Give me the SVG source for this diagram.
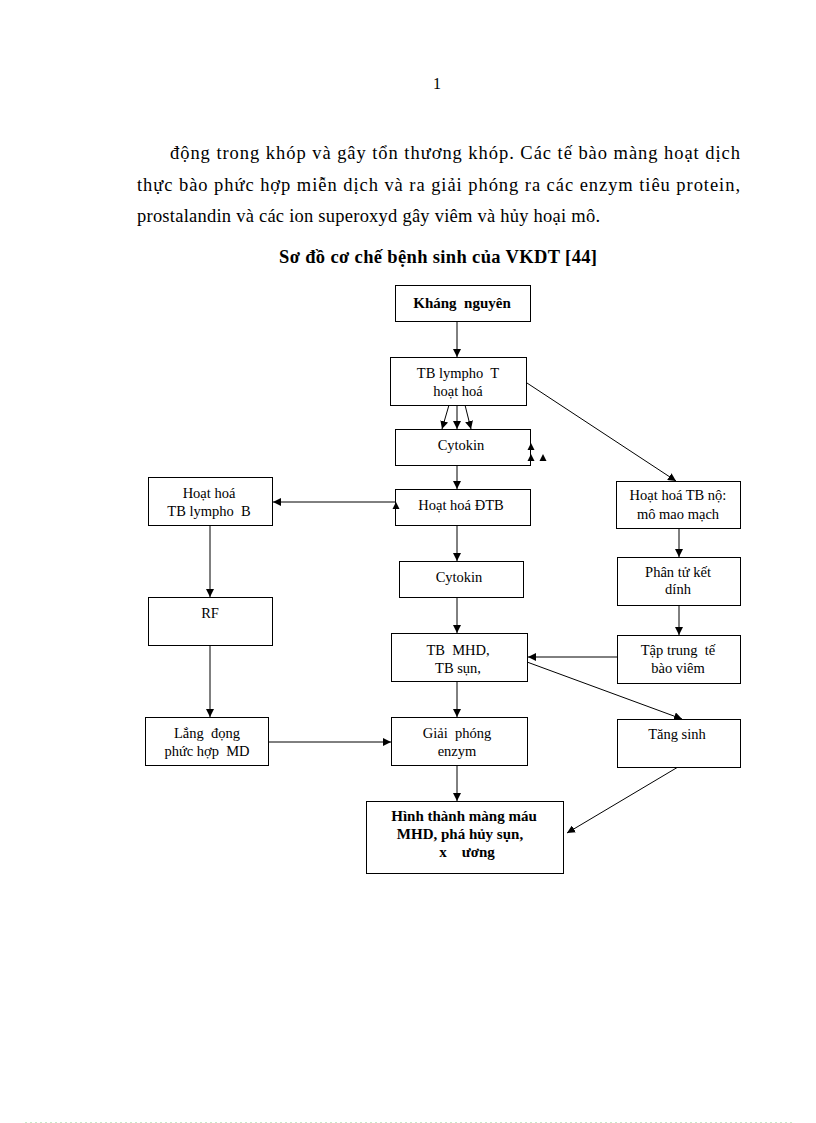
<svg xmlns="http://www.w3.org/2000/svg" width="816" height="1123" viewBox="0 0 816 1123">
<style>
.t{font-family:"Liberation Serif","Times New Roman",serif;fill:#000;white-space:pre}
.body{font-size:18.5px}
.bx{font-size:14.5px;text-anchor:middle}
.bb{font-size:15px;text-anchor:middle;font-weight:bold}
.box{fill:#fff;stroke:#000;stroke-width:1}
.ln{stroke:#000;stroke-width:1;fill:none;marker-end:url(#ah)}
</style>
<defs>
<marker id="ah" viewBox="0 0 10 10" refX="10" refY="5" markerWidth="8" markerHeight="8" markerUnits="userSpaceOnUse" orient="auto">
<path d="M0,0 L10,5 L0,10 z" fill="#000"/>
</marker>
</defs>
<rect width="816" height="1123" fill="#fff"/>
<text class="t" x="437" y="89" font-size="16" text-anchor="middle">1</text>
<text class="t body" x="170" y="159" textLength="570" lengthAdjust="spacing">động trong khóp và gây tổn thương khóp. Các tế bào màng hoạt dịch</text>
<text class="t body" x="137" y="191" textLength="603" lengthAdjust="spacing">thực bào phức hợp miễn dịch và ra giải phóng ra các enzym tiêu protein,</text>
<text class="t body" x="137" y="222" textLength="463" lengthAdjust="spacing">prostalandin và các ion superoxyd gây viêm và hủy hoại mô.</text>
<text class="t body" x="279" y="263" font-weight="bold" textLength="318" lengthAdjust="spacing">Sơ đồ cơ chế bệnh sinh của VKDT [44]</text>

<g id="connectors">
<line class="ln" x1="457" y1="321" x2="457" y2="357"/>
<line class="ln" x1="449" y1="405" x2="442" y2="429"/>
<line class="ln" x1="457" y1="405" x2="457" y2="429"/>
<line class="ln" x1="465" y1="405" x2="471" y2="429"/>
<line class="ln" x1="457" y1="465" x2="457" y2="489"/>
<line class="ln" x1="395" y1="502" x2="273" y2="502"/>
<line class="ln" x1="457" y1="525" x2="457" y2="561"/>
<line class="ln" x1="457" y1="597" x2="457" y2="633"/>
<line class="ln" x1="457" y1="681" x2="457" y2="717"/>
<line class="ln" x1="457" y1="765" x2="457" y2="801"/>
<line class="ln" x1="210" y1="525" x2="210" y2="597"/>
<line class="ln" x1="210" y1="645" x2="210" y2="717"/>
<line class="ln" x1="268" y1="742" x2="391" y2="742"/>
<line class="ln" x1="527" y1="383" x2="676" y2="481"/>
<line class="ln" x1="679" y1="528" x2="679" y2="557"/>
<line class="ln" x1="679" y1="605" x2="679" y2="635"/>
<line class="ln" x1="617" y1="657" x2="528" y2="657"/>
<line class="ln" x1="527" y1="662" x2="682" y2="719"/>
<line class="ln" x1="678" y1="767" x2="567" y2="833"/>
</g>

<g id="n-khang"><rect class="box" x="395.5" y="285.5" width="135" height="36"/><text class="t bb" x="462" y="308">Kháng  nguyên</text></g>
<g id="n-tbt"><rect class="box" x="390.5" y="357.5" width="136" height="48"/><text class="t bx" x="458" y="378">TB lympho  T</text><text class="t bx" x="458" y="396">hoạt hoá</text></g>
<g id="n-cyto1"><rect class="box" x="395.5" y="429.5" width="135" height="36"/><text class="t bx" x="461" y="450">Cytokin</text></g>
<g id="n-dtb"><rect class="box" x="395.5" y="489.5" width="135" height="36"/><text class="t bx" x="461" y="510">Hoạt hoá ĐTB</text></g>
<g id="n-tbb"><rect class="box" x="148.5" y="477.5" width="124" height="48"/><text class="t bx" x="209" y="498">Hoạt hoá</text><text class="t bx" x="209" y="516">TB lympho  B</text></g>
<g id="n-rf"><rect class="box" x="148.5" y="597.5" width="124" height="48"/><text class="t bx" x="210" y="618">RF</text></g>
<g id="n-lang"><rect class="box" x="145.5" y="717.5" width="123" height="48"/><text class="t bx" x="207" y="738">Lắng  đọng</text><text class="t bx" x="207" y="756">phức hợp  MD</text></g>
<g id="n-cyto2"><rect class="box" x="399.5" y="561.5" width="124" height="36"/><text class="t bx" x="459" y="582">Cytokin</text></g>
<g id="n-mhd"><rect class="box" x="391.5" y="633.5" width="136" height="48"/><text class="t bx" x="458" y="655">TB  MHD,</text><text class="t bx" x="458" y="673">TB sụn,</text></g>
<g id="n-giai"><rect class="box" x="391.5" y="717.5" width="136" height="48"/><text class="t bx" x="457" y="738">Giải  phóng</text><text class="t bx" x="457" y="756">enzym</text></g>
<g id="n-hinh"><rect class="box" x="366.5" y="801.5" width="197" height="72"/><text class="t bb" x="464" y="821">Hình thành màng máu</text><text class="t bb" x="460" y="839">MHD, phá hủy sụn,</text><text class="t bb" x="467" y="857">x    ương</text></g>
<g id="n-noi"><rect class="box" x="616.5" y="481.5" width="124" height="47"/><text class="t bx" x="678" y="500">Hoạt hoá TB nộ:</text><text class="t bx" x="678" y="519">mô mao mạch</text></g>
<g id="n-phan"><rect class="box" x="617.5" y="557.5" width="123" height="48"/><text class="t bx" x="678" y="577">Phân tử kết</text><text class="t bx" x="678" y="594">dính</text></g>
<g id="n-tap"><rect class="box" x="617.5" y="635.5" width="123" height="48"/><text class="t bx" x="678" y="655">Tập trung  tế</text><text class="t bx" x="678" y="673">bào viêm</text></g>
<g id="n-tang"><rect class="box" x="617.5" y="719.5" width="123" height="48"/><text class="t bx" x="677" y="739">Tăng sinh</text></g>

<g id="stray-arrowheads">
<polygon points="531,443 527.5,450 534.5,450" fill="#000"/>
<polygon points="531,454 527.5,461 534.5,461" fill="#000"/>
<polygon points="543,454 539.5,461 546.5,461" fill="#000"/>
<polygon points="396,502 392.5,509 399.5,509" fill="#000"/>
</g>

<line x1="25" y1="1122.5" x2="792" y2="1122.5" stroke="#c8eac8" stroke-width="1" stroke-dasharray="2,3"/>
</svg>
